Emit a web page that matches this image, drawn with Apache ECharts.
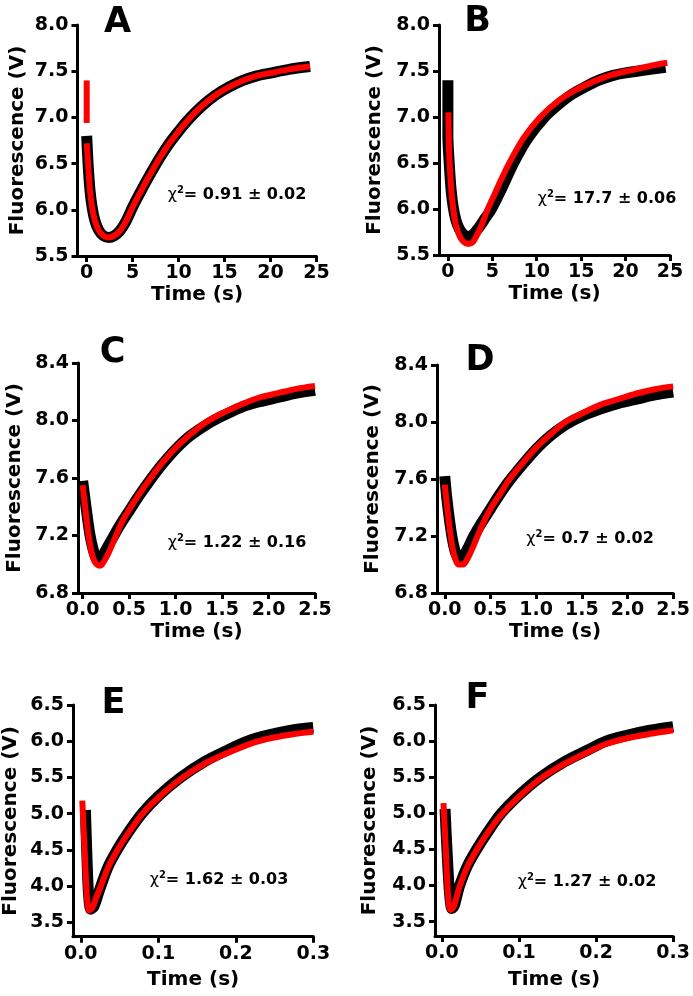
<!DOCTYPE html>
<html>
<head>
<meta charset="utf-8">
<script src="https://cdn.jsdelivr.net/npm/echarts@6/dist/echarts.min.js"></script>
<style>
html,body{margin:0;padding:0;background:#fff;}
#chart{width:693px;height:996px;}
</style>
</head>
<body>
<div id="chart"></div>
<script>
// ---------- DATA ----------
// Panel A
var aDataT = [0, 0.15, 0.35, 0.6, 0.9, 1.3, 1.8, 2.4, 3.0, 3.6, 4.3, 5.0, 6.0, 7.0, 8.0, 9.0, 10, 11, 12.5, 14, 15.5, 17, 18.5, 20, 22, 24.3];
var aDataV = [6.80, 6.50, 6.22, 6.02, 5.88, 5.78, 5.72, 5.70, 5.72, 5.77, 5.88, 6.03, 6.22, 6.40, 6.57, 6.72, 6.85, 6.97, 7.12, 7.24, 7.33, 7.40, 7.45, 7.48, 7.52, 7.55];
var aFitT = [0, 0.15, 0.35, 0.6, 0.9, 1.3, 1.8, 2.4, 3.0, 3.6, 4.3, 5.0, 6.0, 7.0, 8.0, 9.0, 10, 11, 12.5, 14, 15.5, 17, 18.5, 20, 22, 24.3];
var aFitV = [6.72, 6.50, 6.22, 6.02, 5.88, 5.78, 5.72, 5.70, 5.72, 5.77, 5.88, 6.03, 6.22, 6.40, 6.57, 6.72, 6.85, 6.97, 7.12, 7.24, 7.33, 7.40, 7.45, 7.48, 7.52, 7.55];
var aFitStartT = [0, 0];
var aFitStartV = [7.40, 6.94];
// Panel B
var bDataT = [0, 0, 0.15, 0.35, 0.6, 0.9, 1.3, 1.8, 2.3, 2.9, 3.5, 4.2, 4.9, 6.0, 7.4, 9.0, 10.9, 12.5, 14, 15.5, 17, 18.5, 20, 22.2, 24.5];
var bDataV = [7.40, 6.80, 6.50, 6.22, 6.02, 5.88, 5.78, 5.72, 5.70, 5.73, 5.80, 5.90, 6.00, 6.21, 6.50, 6.77, 7.00, 7.14, 7.25, 7.33, 7.40, 7.45, 7.48, 7.51, 7.54];
var bFitT = [0.05, 0.15, 0.35, 0.6, 0.9, 1.3, 1.8, 2.3, 2.8, 3.3, 3.9, 4.4, 5.2, 6.0, 6.8, 8.5, 10.4, 12.5, 14.5, 16.5, 18.5, 20.7, 23, 24.7];
var bFitV = [7.05, 6.60, 6.25, 6.00, 5.83, 5.71, 5.64, 5.62, 5.64, 5.72, 5.85, 5.98, 6.15, 6.32, 6.48, 6.77, 7.00, 7.18, 7.30, 7.39, 7.46, 7.51, 7.56, 7.59];
// Panel C
var cDataT = [0, 0.02, 0.05, 0.08, 0.11, 0.14, 0.17, 0.2, 0.25, 0.32, 0.4, 0.5, 0.6, 0.72, 0.85, 1.0, 1.15, 1.33, 1.5, 1.7, 1.9, 2.1, 2.3, 2.5];
var cDataV = [7.58, 7.48, 7.33, 7.20, 7.11, 7.05, 7.03, 7.04, 7.10, 7.18, 7.27, 7.37, 7.47, 7.58, 7.69, 7.80, 7.89, 7.97, 8.03, 8.09, 8.13, 8.16, 8.19, 8.21];
var cFitT = [0, 0.03, 0.06, 0.09, 0.12, 0.15, 0.19, 0.23, 0.28, 0.34, 0.42, 0.5, 0.6, 0.72, 0.85, 1.0, 1.15, 1.33, 1.5, 1.7, 1.9, 2.1, 2.3, 2.5];
var cFitV = [7.55, 7.38, 7.22, 7.10, 7.03, 7.00, 6.99, 7.02, 7.08, 7.17, 7.29, 7.38, 7.48, 7.59, 7.70, 7.81, 7.90, 7.99, 8.05, 8.11, 8.16, 8.19, 8.22, 8.24];
// Panel D
var dDataT = [0, 0.02, 0.05, 0.08, 0.11, 0.14, 0.17, 0.2, 0.25, 0.31, 0.4, 0.5, 0.6, 0.71, 0.85, 1.0, 1.15, 1.32, 1.5, 1.7, 1.9, 2.1, 2.3, 2.5];
var dDataV = [7.62, 7.48, 7.32, 7.19, 7.10, 7.05, 7.03, 7.05, 7.11, 7.19, 7.29, 7.39, 7.49, 7.59, 7.70, 7.81, 7.90, 7.98, 8.04, 8.09, 8.13, 8.16, 8.19, 8.21];
var dFitT = [0, 0.03, 0.06, 0.09, 0.12, 0.15, 0.2, 0.24, 0.28, 0.34, 0.42, 0.5, 0.6, 0.71, 0.85, 1.0, 1.15, 1.32, 1.5, 1.7, 1.9, 2.1, 2.3, 2.5];
var dFitV = [7.56, 7.38, 7.22, 7.10, 7.03, 7.00, 7.00, 7.03, 7.08, 7.17, 7.29, 7.39, 7.49, 7.60, 7.71, 7.82, 7.91, 8.00, 8.06, 8.12, 8.16, 8.20, 8.23, 8.25];
// Panel E
var eDataT = [0.006, 0.008, 0.010, 0.013, 0.017, 0.021, 0.026, 0.035, 0.047, 0.06, 0.079, 0.1, 0.129, 0.16, 0.19, 0.215, 0.24, 0.27, 0.3];
var eDataV = [5.05, 4.40, 3.90, 3.68, 3.72, 3.84, 4.00, 4.26, 4.50, 4.72, 5.00, 5.24, 5.50, 5.72, 5.88, 6.00, 6.08, 6.15, 6.19];
var eFitT = [0.002, 0.005, 0.008, 0.011, 0.015, 0.02, 0.026, 0.035, 0.047, 0.06, 0.079, 0.1, 0.129, 0.16, 0.19, 0.215, 0.24, 0.27, 0.3];
var eFitV = [5.18, 4.50, 3.85, 3.66, 3.70, 3.84, 4.00, 4.25, 4.49, 4.71, 4.99, 5.22, 5.48, 5.69, 5.84, 5.95, 6.03, 6.09, 6.13];
// Panel F
var fDataT = [0.004, 0.007, 0.010, 0.013, 0.016, 0.019, 0.023, 0.033, 0.045, 0.06, 0.077, 0.1, 0.128, 0.16, 0.19, 0.213, 0.24, 0.27, 0.3];
var fDataV = [5.06, 4.40, 3.88, 3.68, 3.72, 3.84, 4.00, 4.27, 4.50, 4.75, 5.00, 5.25, 5.50, 5.72, 5.88, 6.00, 6.08, 6.15, 6.20];
var fFitT = [0.002, 0.005, 0.008, 0.011, 0.015, 0.019, 0.023, 0.033, 0.045, 0.06, 0.077, 0.1, 0.128, 0.16, 0.19, 0.213, 0.24, 0.27, 0.3];
var fFitV = [5.14, 4.50, 3.85, 3.66, 3.70, 3.84, 3.99, 4.26, 4.49, 4.74, 4.98, 5.23, 5.48, 5.69, 5.85, 5.96, 6.04, 6.10, 6.15];

// ticks and labels
var xTicksAB = [0, 5, 10, 15, 20, 25];
var xTicksCD = [0, 0.5, 1.0, 1.5, 2.0, 2.5];
var xTicksEF = [0, 0.1, 0.2, 0.3];
var yTicksEF = [3.5, 4.0, 4.5, 5.0, 5.5, 6.0, 6.5];
var panelLetters = ['A', 'B', 'C', 'D', 'E', 'F'];
var chiLabels = ['0.91 ± 0.02', '17.7 ± 0.06', '1.22 ± 0.16', '0.7 ± 0.02', '1.62 ± 0.03', '1.27 ± 0.02'];
var xName = 'Time (s)';
var yName = 'Fluorescence (V)';

// ---------- BUILD ----------
function zip(t, v) { return t.map(function (x, i) { return [x, v[i]]; }); }
var FONT = "'DejaVu Sans', sans-serif";

var panels = [
  { grid: {left: 77.5, top: 25, width: 239, height: 231}, xmin: -1, xmax: 25, xt: xTicksAB, xd: 0, ymin: 5.5, ymax: 8.0, yi: 0.5, yn: 50, xn: 29,
    series: [[aDataT, aDataV, 'd'], [aFitT, aFitV, 'f'], [aFitStartT, aFitStartV, 'f']], letter: [117.5, 22.5], chi: [237, 195] },
  { grid: {left: 439, top: 25, width: 231, height: 230}, xmin: -1, xmax: 25, xt: xTicksAB, xd: 0, ymin: 5.5, ymax: 8.0, yi: 0.5, yn: 54, xn: 29,
    series: [[bDataT, bDataV, 'd'], [bFitT, bFitV, 'f']], letter: [477.5, 21.5], chi: [607, 199] },
  { grid: {left: 78, top: 363, width: 237, height: 230}, xmin: -0.05, xmax: 2.5, xt: xTicksCD, xd: 1, ymin: 6.8, ymax: 8.4, yi: 0.4, yn: 53, xn: 29,
    series: [[cDataT, cDataV, 'd'], [cFitT, cFitV, 'f']], letter: [112.5, 353], chi: [237, 543] },
  { grid: {left: 437, top: 365, width: 238, height: 228}, xmin: -0.085, xmax: 2.5, xt: xTicksCD, xd: 1, ymin: 6.8, ymax: 8.4, yi: 0.4, yn: 54, xn: 29,
    series: [[dDataT, dDataV, 'd'], [dFitT, dFitV, 'f']], letter: [480, 361], chi: [590, 539] },
  { grid: {left: 72, top: 705, width: 241.3, height: 231.7}, xmin: -0.01, xmax: 0.3, xt: xTicksEF, xd: 1, ymin: 3.3, ymax: 6.5, yt: yTicksEF, yn: 52, xn: 33,
    series: [[eDataT, eDataV, 'd'], [eFitT, eFitV, 'f']], letter: [113.5, 704], chi: [219, 880] },
  { grid: {left: 435, top: 705, width: 241.7, height: 231}, xmin: -0.009, xmax: 0.3, xt: xTicksEF, xd: 1, ymin: 3.3, ymax: 6.5, yt: yTicksEF, yn: 55, xn: 34,
    series: [[fDataT, fDataV, 'd'], [fFitT, fFitV, 'f']], letter: [477.5, 699], chi: [587, 882] }
];

var option = { animation: false, backgroundColor: '#fff', grid: [], xAxis: [], yAxis: [], series: [], graphic: [] };
var axisLineStyle = { color: '#000', width: 3 };
panels.forEach(function (p, i) {
  option.grid.push(p.grid);
  var xd = p.xd;
  option.xAxis.push({
    type: 'value', gridIndex: i, min: p.xmin, max: p.xmax,
    splitLine: { show: false },
    axisLine: { show: true, onZero: false, lineStyle: axisLineStyle },
    axisTick: { show: true, length: 6, inside: false, lineStyle: { color: '#000', width: 3 }, customValues: p.xt },
    axisLabel: { customValues: p.xt, formatter: function (v) { return v.toFixed(xd); }, fontSize: 19, fontWeight: 'bold', fontFamily: FONT, color: '#000', margin: 8 },
    name: xName, nameLocation: 'middle', nameGap: p.xn,
    nameTextStyle: { fontSize: 20, fontWeight: 'bold', fontFamily: FONT, color: '#000' }
  });
  var ya = {
    type: 'value', gridIndex: i, min: p.ymin, max: p.ymax,
    splitLine: { show: false },
    axisLine: { show: true, onZero: false, lineStyle: axisLineStyle },
    axisTick: { show: true, length: 6, inside: false, lineStyle: { color: '#000', width: 3 } },
    axisLabel: { formatter: function (v) { return v.toFixed(1); }, fontSize: 19, fontWeight: 'bold', fontFamily: FONT, color: '#000', margin: 9 },
    name: yName, nameLocation: 'middle', nameGap: p.yn,
    nameTextStyle: { fontSize: 20, fontWeight: 'bold', fontFamily: FONT, color: '#000' }
  };
  if (p.yt) { ya.axisTick.customValues = p.yt; ya.axisLabel.customValues = p.yt; }
  else { ya.interval = p.yi; }
  option.yAxis.push(ya);
  var order = p.series.filter(function (s) { return s[2] === 'd'; }).concat(p.series.filter(function (s) { return s[2] === 'f'; }));
  order.forEach(function (s) {
    var isData = s[2] === 'd';
    option.series.push({
      type: 'line', xAxisIndex: i, yAxisIndex: i, data: zip(s[0], s[1]),
      showSymbol: false, smooth: 0.3, silent: true, clip: false,
      lineStyle: { color: isData ? '#000' : '#ff0000', width: isData ? 11 : 6, cap: 'butt', join: 'round' },
      z: isData ? 2 : 3
    });
  });
  option.graphic.push({
    type: 'text', x: p.letter[0], y: p.letter[1],
    style: { text: panelLetters[i], font: "bold 35px 'DejaVu Sans'", fill: '#000', align: 'center', verticalAlign: 'middle' }
  });
  option.graphic.push({
    type: 'text', x: p.chi[0], y: p.chi[1],
    style: {
      text: '{c|χ}{s|2}{b|= ' + chiLabels[i] + '}',
      align: 'center', verticalAlign: 'middle',
      rich: {
        c: { fontSize: 16, fontFamily: FONT, fontWeight: 'normal', fill: '#000' },
        s: { fontSize: 10, fontFamily: FONT, fontWeight: 'bold', fill: '#000', padding: [0, 0, 9, 0] },
        b: { fontSize: 16, fontFamily: FONT, fontWeight: 'bold', fill: '#000' }
      }
    }
  });
});

var chart = echarts.init(document.getElementById('chart'), null, { renderer: 'canvas' });
chart.setOption(option);
</script>
</body>
</html>
